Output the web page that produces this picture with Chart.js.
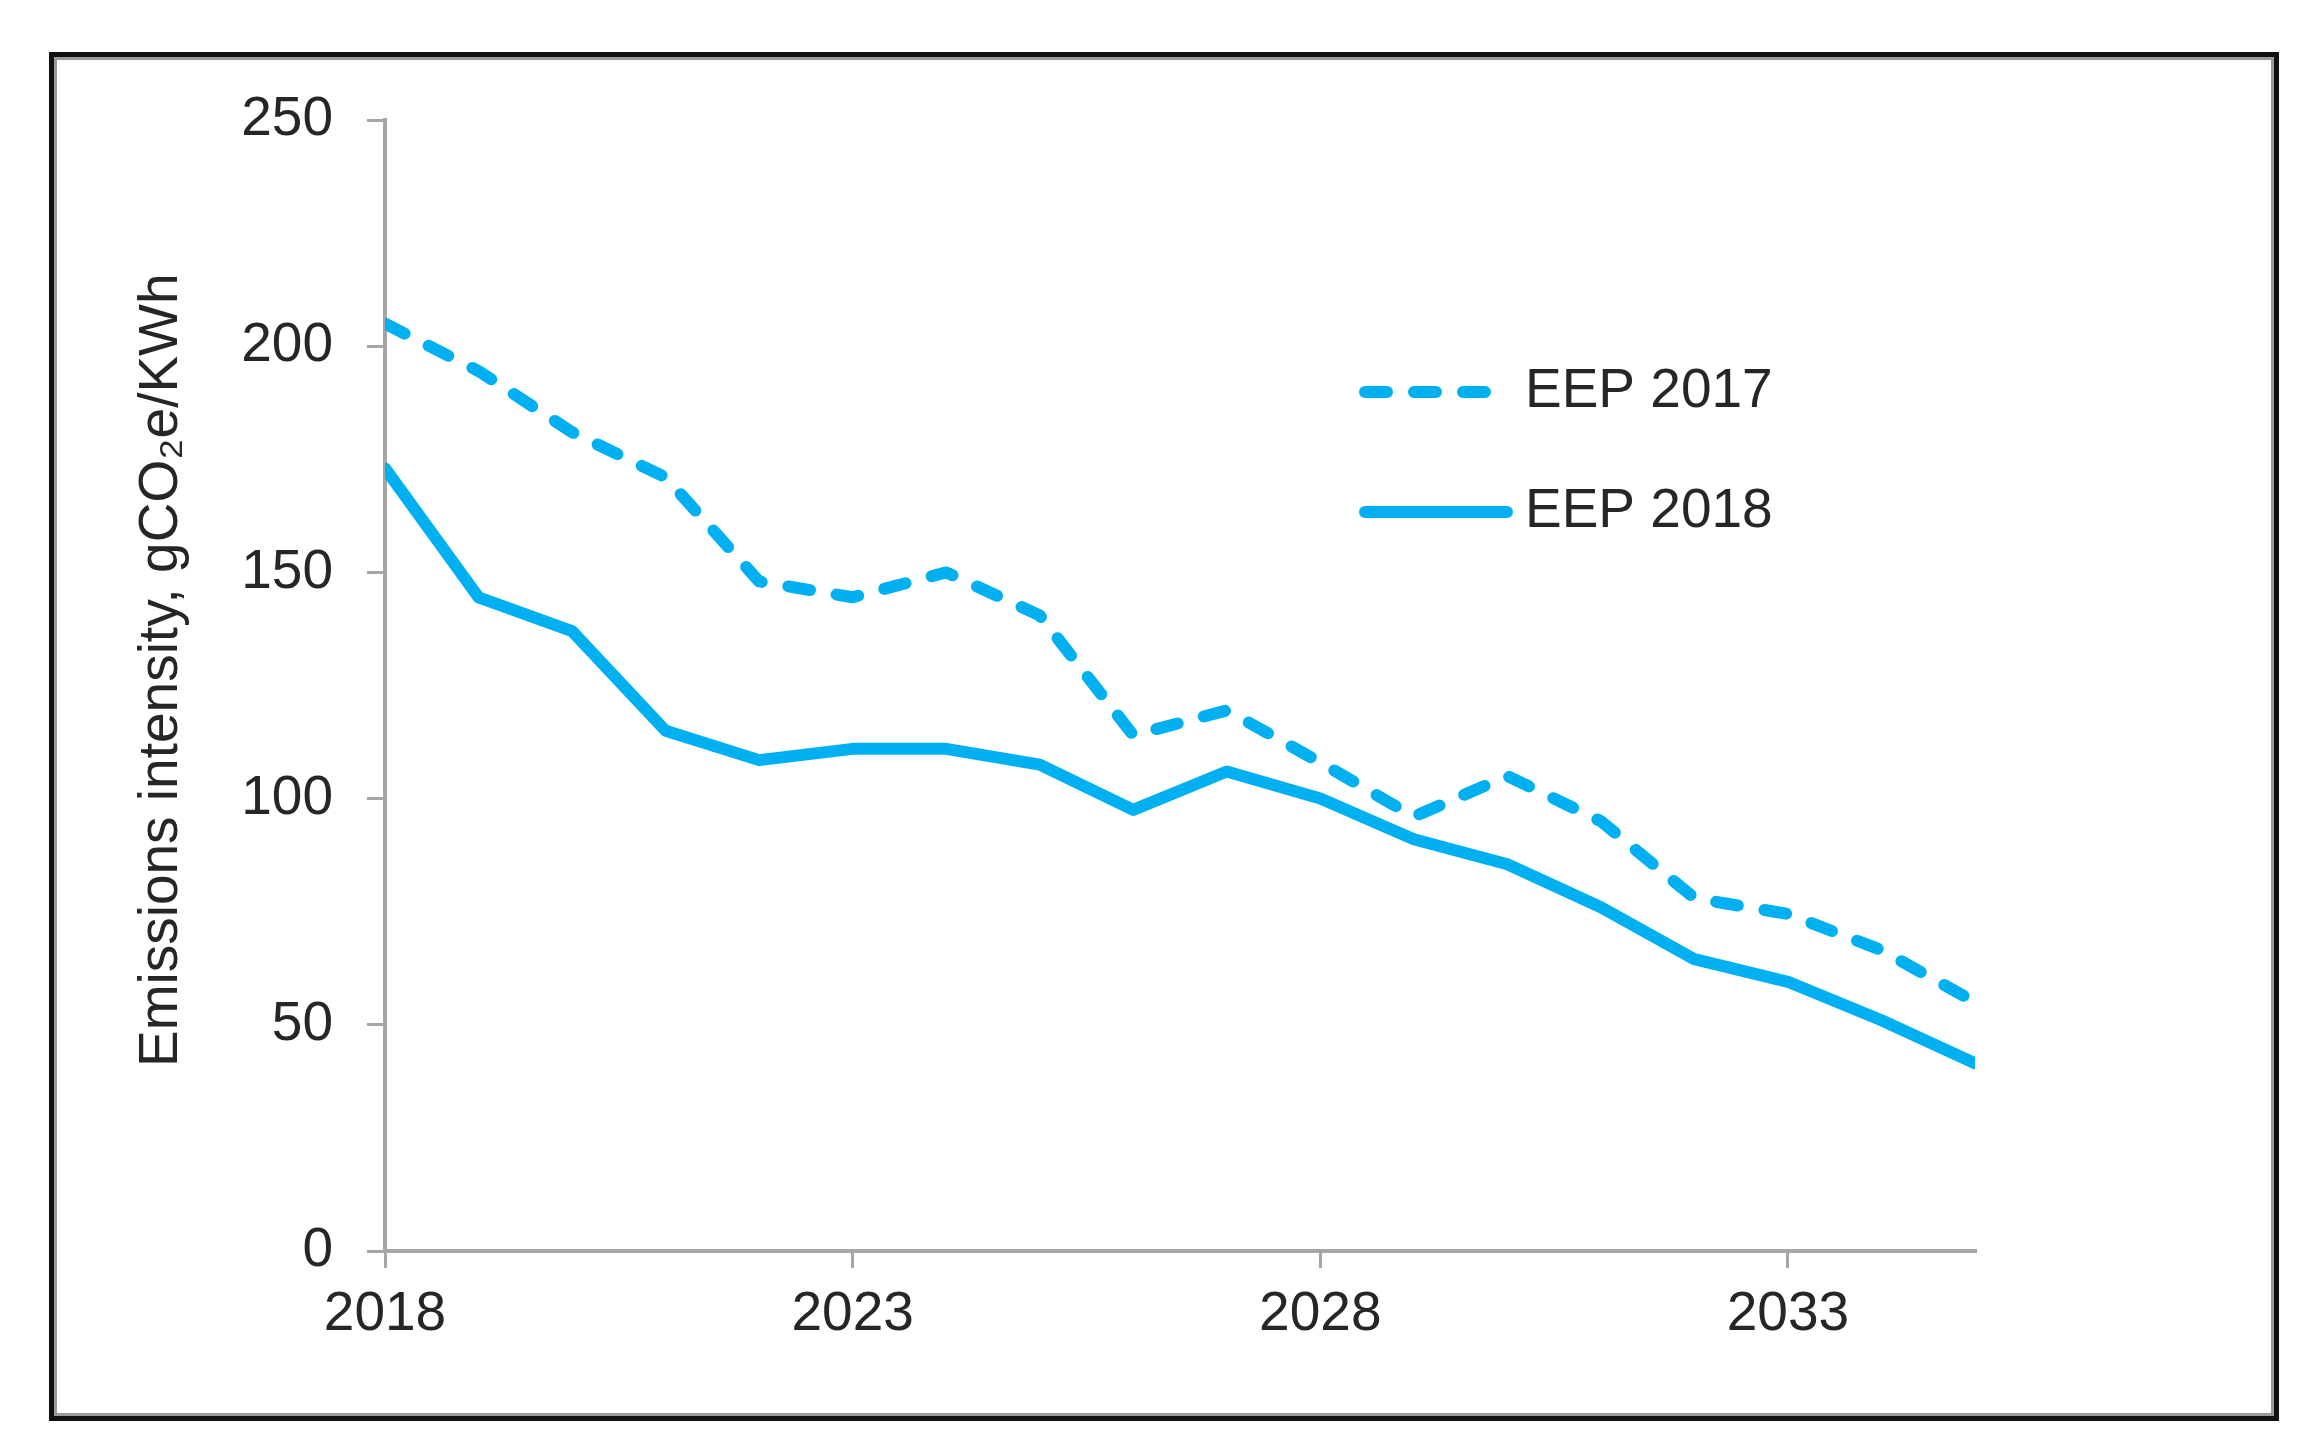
<!DOCTYPE html>
<html>
<head>
<meta charset="utf-8">
<title>Emissions intensity</title>
<script src="https://cdn.jsdelivr.net/npm/chart.js@4.4.1/dist/chart.umd.min.js"></script>
<style>
    html, body { margin: 0; padding: 0; background: #fff; }
    #frame {
        position: absolute;
        left: 49px; top: 52px;
        width: 2230px; height: 1369px;
        box-sizing: border-box;
        border: 5px solid #111;
        box-shadow: inset 0 0 0 3px #9a9a9a;
    }
    #myChart { position: absolute; left: 0; top: 0; }
</style>
</head>
<body>
<div id="frame"></div>
<canvas id="myChart" width="2308" height="1452"></canvas>
<script>
// Chart data
const years = [2018, 2019, 2020, 2021, 2022, 2023, 2024, 2025, 2026,
               2027, 2028, 2029, 2030, 2031, 2032, 2033, 2034, 2035];
const eep2017 = [205, 194.5, 181, 171, 148, 144.5, 150, 140.5, 114,
                 119.5, 108, 96, 105, 95, 78, 74.5, 66.5, 55];
const eep2018 = [173, 144.5, 137, 115, 108.5, 111, 111, 107.5, 97.5,
                 106, 100, 91, 85.5, 76, 64.5, 59.5, 51, 41.5];
const seriesNames = ["EEP 2017", "EEP 2018"];
const xTicks = [2018, 2023, 2028, 2033];
const yTicks = [0, 50, 100, 150, 200, 250];

const blue = "#00b0f0";
const axisGrey = "#a6a6a6";
const textColor = "#262626";
const fontFamily = "'Liberation Sans', Arial, sans-serif";

function toPoints(values) {
    return years.map((yr, i) => ({ x: yr, y: values[i] }));
}

// Legend drawn inside the plot area, as in the original
const insideLegend = {
    id: "insideLegend",
    afterDraw(chart) {
        const ctx = chart.ctx;
        const rows = [392, 512];
        ctx.save();
        chart.data.datasets.forEach((ds, i) => {
            const y = rows[i];
            ctx.strokeStyle = ds.borderColor;
            ctx.lineWidth = ds.borderWidth;
            ctx.lineCap = "round";
            ctx.setLineDash(ds.borderDash || []);
            ctx.beginPath();
            ctx.moveTo(1365, y);
            ctx.lineTo(ds.borderDash ? 1491 : 1507, y);
            ctx.stroke();
            ctx.setLineDash([]);
            ctx.fillStyle = textColor;
            ctx.font = "55px " + fontFamily;
            ctx.textBaseline = "middle";
            ctx.textAlign = "left";
            ctx.fillText(ds.label, 1525, y);
        });
        ctx.restore();
    }
};

const ctx = document.getElementById("myChart").getContext("2d");
const chartInstance = new Chart(ctx, {
    type: "line",
    data: {
        datasets: [{
            label: seriesNames[0],
            data: toPoints(eep2017),
            borderColor: blue,
            borderWidth: 12,
            borderDash: [22, 27],
            borderCapStyle: "round",
            borderJoinStyle: "round",
            pointRadius: 0,
            tension: 0
        }, {
            label: seriesNames[1],
            data: toPoints(eep2018),
            borderColor: blue,
            borderWidth: 12,
            borderCapStyle: "round",
            borderJoinStyle: "round",
            pointRadius: 0,
            tension: 0
        }]
    },
    options: {
        responsive: false,
        animation: false,
        layout: {
            padding: { left: 129, right: 333, top: 120, bottom: 81 }
        },
        plugins: {
            legend: { display: false },
            tooltip: { enabled: false }
        },
        scales: {
            x: {
                type: "linear",
                min: years[0],
                max: years[years.length - 1],
                afterBuildTicks: scale => { scale.ticks = xTicks.map(v => ({ value: v })); },
                afterFit: scale => { scale.height = 120; },
                grid: {
                    drawOnChartArea: false,
                    drawTicks: true,
                    tickLength: 17,
                    color: axisGrey,
                    lineWidth: 3
                },
                border: { display: true, color: axisGrey, width: 4 },
                ticks: {
                    autoSkip: false,
                    maxRotation: 0,
                    padding: 14,
                    color: textColor,
                    font: { family: fontFamily, size: 55 },
                    callback: v => String(v)
                }
            },
            y: {
                min: 0,
                max: 250,
                afterBuildTicks: scale => { scale.ticks = yTicks.map(v => ({ value: v })); },
                afterFit: scale => { scale.width = 256; },
                grid: {
                    drawOnChartArea: false,
                    drawTicks: true,
                    tickLength: 18,
                    color: axisGrey,
                    lineWidth: 3
                },
                border: { display: true, color: axisGrey, width: 4 },
                ticks: {
                    padding: 34,
                    color: textColor,
                    font: { family: fontFamily, size: 55 },
                    callback: v => String(v)
                },
                title: {
                    display: true,
                    // two leading spaces nudge the rotated title up a little
                    text: "  Emissions intensity, gCO\u2082e/KWh",
                    color: textColor,
                    padding: 0,
                    font: { family: fontFamily, size: 55 }
                }
            }
        }
    },
    plugins: [insideLegend]
});
</script>
</body>
</html>
